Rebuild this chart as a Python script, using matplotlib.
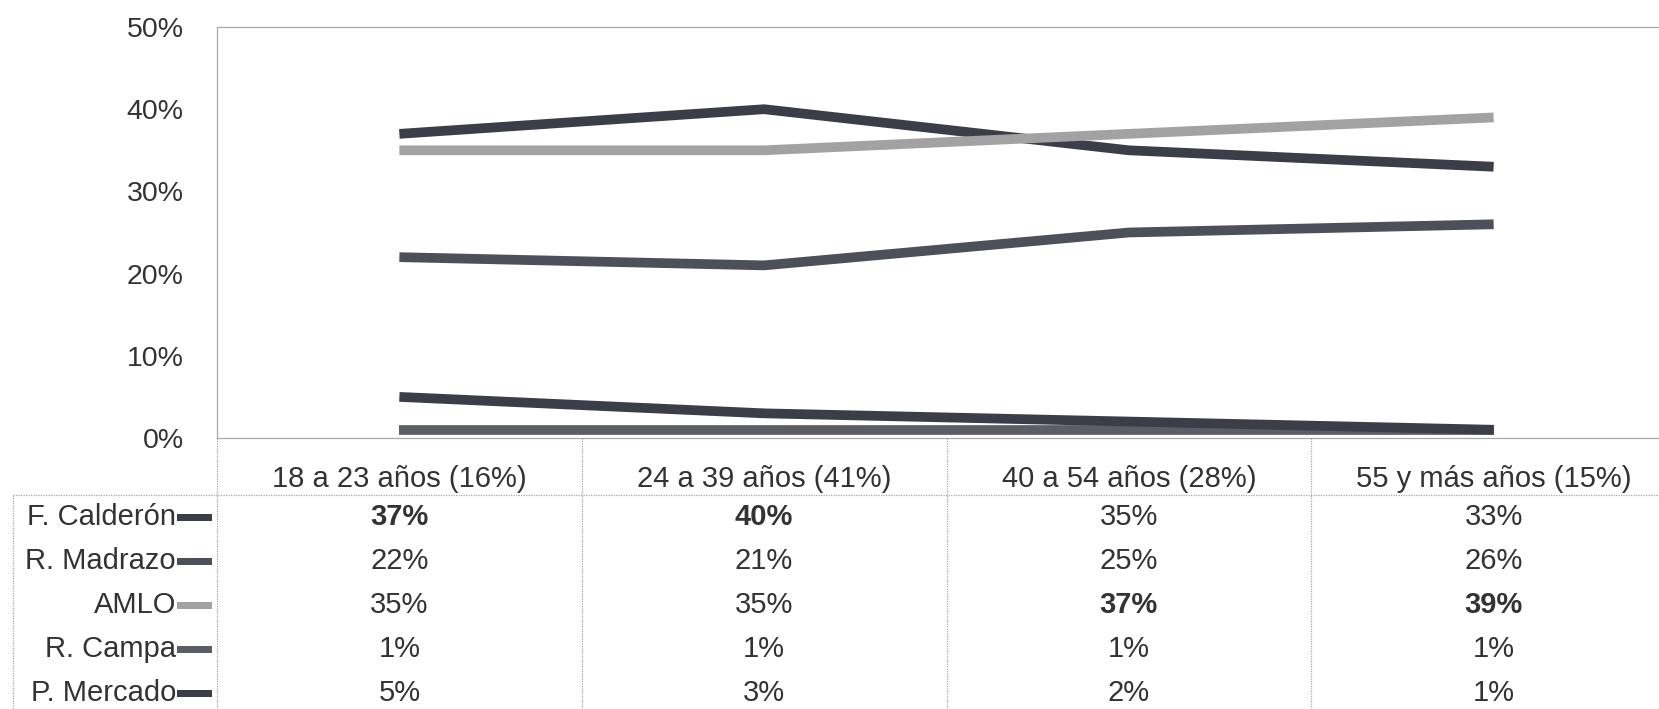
import matplotlib
matplotlib.use("Agg")
import matplotlib.pyplot as plt
import matplotlib.transforms as mtransforms
from matplotlib.patches import Rectangle

plt.rcParams['font.family'] = ['Liberation Sans', 'DejaVu Sans']

# data
age_groups = ['18 a 23 años (16%)', '24 a 39 años (41%)', '40 a 54 años (28%)', '55 y más años (15%)']
candidates = ['F. Calderón', 'R. Madrazo', 'AMLO', 'R. Campa', 'P. Mercado']
calderon = [37, 40, 35, 33]
madrazo = [22, 21, 25, 26]
amlo = [35, 35, 37, 39]
campa = [1, 1, 1, 1]
mercado = [5, 3, 2, 1]
bold_cells = {('F. Calderón', 0), ('F. Calderón', 1), ('AMLO', 2), ('AMLO', 3)}

series = [calderon, madrazo, amlo, campa, mercado]
colors = ['#3b3e47', '#4d5058', '#a2a2a2', '#5c5e65', '#3b3e47']
text_color = '#333333'
grid_color = '#a8a8a8'

W, H = 1659, 709
fig = plt.figure(figsize=(W / 100, H / 100), dpi=100)
fig.patch.set_facecolor('white')

# main line chart (right edge runs past the image, as in the original)
ax = fig.add_axes([217 / W, (H - 438) / H, (1676 - 217) / W, (438 - 27) / H])
xs = [i + 0.5 for i in range(len(age_groups))]
for vals, col in zip(series, colors):
    ax.plot(xs, vals, color=col, lw=7, solid_capstyle='butt', solid_joinstyle='round')
ax.set_xlim(0, len(age_groups))
ax.set_ylim(0, 50)
ax.set_yticks(range(0, 51, 10))
ax.set_yticklabels([f'{v}%' for v in range(0, 51, 10)], fontsize=20.5, color=text_color)
ax.tick_params(axis='y', length=0, pad=24)
ax.set_xticks([])
for side in ['top', 'left', 'bottom']:
    ax.spines[side].set_color(grid_color)
    ax.spines[side].set_linewidth(0.9)
    ax.spines[side].set_linestyle((0, (1, 1)))
ax.spines['right'].set_visible(False)

# data table below the chart, pixel coordinates for layout
tab = fig.add_axes([0, 0, 1, 1], zorder=-1)
tab.set_xlim(0, W)
tab.set_ylim(H, 0)
tab.axis('off')
trans = mtransforms.blended_transform_factory(ax.transData, tab.transData)

line_kw = dict(color=grid_color, lw=0.9, linestyle=(0, (1, 1)))
tab.plot([13, W], [495, 495], **line_kw)
tab.plot([13, 13], [495, H], **line_kw)
for i in range(len(age_groups)):
    tab.plot([i, i], [438, H], transform=trans, **line_kw)

header_y = 479
for i, label in enumerate(age_groups):
    tab.text(i + 0.5, header_y, label, transform=trans, ha='center', va='center',
             fontsize=21, color=text_color)

row_y0, row_step = 517, 44
for r, (name, vals, col) in enumerate(zip(candidates, series, colors)):
    y = row_y0 + r * row_step
    tab.text(176, y, name, ha='right', va='center', fontsize=21, color=text_color)
    tab.add_patch(Rectangle((177, y - 3), 35, 7, color=col, lw=0))
    for c, v in enumerate(vals):
        weight = 'bold' if (name, c) in bold_cells else 'normal'
        tab.text(c + 0.5, y, f'{v}%', transform=trans, ha='center', va='center',
                 fontsize=21, color=text_color, fontweight=weight)

fig.savefig('out.png', dpi=100, facecolor='white')
